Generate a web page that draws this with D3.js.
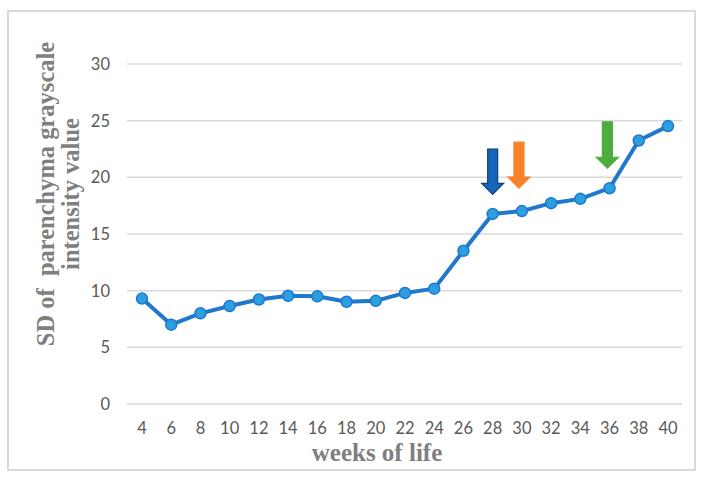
<!DOCTYPE html>
<html>
<head>
<meta charset="utf-8">
<script src="https://cdn.jsdelivr.net/npm/d3@7"></script>
<style>
	body { margin: 0; background: #fff; }
</style>
</head>
<body>
<script>
// chart data
const weeks = [4, 6, 8, 10, 12, 14, 16, 18, 20, 22, 24, 26, 28, 30, 32, 34, 36, 38, 40]
const sdValues = [9.3, 7.0, 8.0, 8.65, 9.22, 9.55, 9.5, 9.02, 9.1, 9.8, 10.18, 13.52, 16.77, 17.02, 17.72, 18.1, 19.04, 23.25, 24.52]
const yTicks = [0, 5, 10, 15, 20, 25, 30]
// arrow annotations: week position, top value, tip value, colour
const arrowWeeks = [28, 29.8, 35.85]
const arrowTops = [22.5, 23.1, 24.9]
const arrowTips = [18.5, 19.05, 20.8]
const arrowColors = ['#1565b8', '#f7822a', '#4cae3c']
const arrowStrokes = ['#0d3f78', '#f7822a', '#4cae3c']

const width = 707
const height = 479

const svg = d3.select('body').append('svg').attr('width', width).attr('height', height)

// outer frame
svg.append('rect')
	.attr('x', 8).attr('y', 11)
	.attr('width', 687).attr('height', 459)
	.attr('fill', 'none')
	.attr('stroke', '#d9d9d9')
	.attr('stroke-width', 2)

const x = d3.scalePoint().domain(weeks).range([142, 668])
const xLin = d3.scaleLinear().domain([4, 40]).range([142, 668])
const y = d3.scaleLinear().domain([0, 30]).range([404, 64])

// gridlines
svg.append('g')
	.selectAll('line')
	.data(yTicks)
	.enter()
	.append('line')
	.attr('x1', 127).attr('x2', 682)
	.attr('y1', d => y(d)).attr('y2', d => y(d))
	.attr('stroke', '#d9d9d9')
	.attr('stroke-width', 1.5)

// y tick labels
svg.append('g')
	.selectAll('text')
	.data(yTicks)
	.enter()
	.append('text')
	.attr('x', 110)
	.attr('y', d => y(d) + 6)
	.attr('text-anchor', 'end')
	.attr('fill', '#595959')
	.style('font', '16.5px Lato, sans-serif')
	.text(d => d)

// x tick labels
svg.append('g')
	.selectAll('text')
	.data(weeks)
	.enter()
	.append('text')
	.attr('x', d => x(d))
	.attr('y', 434)
	.attr('text-anchor', 'middle')
	.attr('fill', '#595959')
	.style('font', '16.5px Lato, sans-serif')
	.text(d => d)

// axis titles
svg.append('text')
	.attr('x', 377).attr('y', 461)
	.attr('text-anchor', 'middle')
	.attr('fill', '#7f7f7f')
	.style('font', 'bold 25px "Liberation Serif", serif')
	.text('weeks of life')

const yTitle = svg.append('text')
	.attr('transform', 'translate(54,194) rotate(-90)')
	.attr('text-anchor', 'middle')
	.attr('fill', '#7f7f7f')
	.style('font', 'bold 24.5px "Liberation Serif", serif')
	.style('white-space', 'pre')
yTitle.append('tspan').attr('x', 0).attr('y', 0).text('SD of  parenchyma grayscale')
yTitle.append('tspan').attr('x', 0).attr('y', 25).text('intensity value')

// line
const line = d3.line()
	.x((d, i) => x(weeks[i]))
	.y(d => y(d))

svg.append('path')
	.datum(sdValues)
	.attr('d', line)
	.attr('fill', 'none')
	.attr('stroke', '#1f78cc')
	.attr('stroke-width', 4)
	.attr('stroke-linejoin', 'round')

// points
svg.append('g')
	.selectAll('circle')
	.data(sdValues)
	.enter()
	.append('circle')
	.attr('cx', (d, i) => x(weeks[i]))
	.attr('cy', d => y(d))
	.attr('r', 5.5)
	.attr('fill', '#2c9fe0')
	.attr('stroke', '#1f78cc')
	.attr('stroke-width', 1.5)

// arrows
arrowWeeks.forEach(function (w, i) {
	const cx = xLin(w)
	const top = y(arrowTops[i])
	const tip = y(arrowTips[i])
	const headTop = tip - 11
	const p = d3.path()
	p.moveTo(cx - 5, top)
	p.lineTo(cx + 5, top)
	p.lineTo(cx + 5, headTop)
	p.lineTo(cx + 11, headTop)
	p.lineTo(cx, tip)
	p.lineTo(cx - 11, headTop)
	p.lineTo(cx - 5, headTop)
	p.closePath()
	svg.append('path')
		.attr('d', p.toString())
		.attr('fill', arrowColors[i])
		.attr('stroke', arrowStrokes[i])
		.attr('stroke-width', 1.2)
		.attr('stroke-linejoin', 'miter')
})
</script>
</body>
</html>
